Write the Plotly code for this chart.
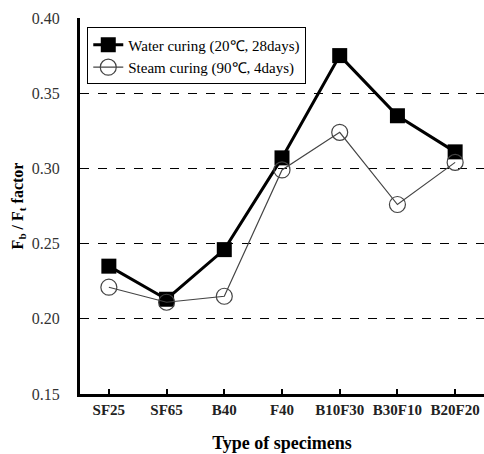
import plotly.graph_objects as go

categories = ["SF25", "SF65", "B40", "F40", "B10F30", "B30F10", "B20F20"]
water = [0.235, 0.213, 0.246, 0.307, 0.375, 0.335, 0.311]
steam = [0.221, 0.211, 0.215, 0.299, 0.324, 0.276, 0.304]
y_ticks = [0.15, 0.20, 0.25, 0.30, 0.35, 0.40]

font = "Liberation Serif"

fig = go.Figure()
fig.add_trace(go.Scatter(
    x=categories, y=water, mode="lines+markers",
    name="Water curing (20\u2103, 28days)",
    line=dict(color="black", width=3),
    marker=dict(symbol="square", size=15, color="black"),
))
fig.add_trace(go.Scatter(
    x=categories, y=steam, mode="lines+markers",
    name="Steam curing (90\u2103, 4days)",
    line=dict(color="#444444", width=1.2),
    marker=dict(symbol="circle-open", size=16, color="#444444", line=dict(width=1.2)),
))

fig.update_layout(
    width=484, height=454,
    margin=dict(l=80, r=0, t=18, b=60),
    paper_bgcolor="white", plot_bgcolor="white",
    font=dict(family=font, size=14, color="black"),
    showlegend=True,
    legend=dict(
        x=0.018, y=0.975, xanchor="left", yanchor="top",
        bordercolor="black", borderwidth=1, bgcolor="white",
        font=dict(family=font, size=15, color="black"),
        tracegroupgap=0, itemwidth=30,
    ),
    xaxis=dict(
        type="category", categoryorder="array", categoryarray=categories,
        range=[-0.5, 6.5], automargin=False,
        showline=True, linecolor="black", linewidth=3,
        ticks="inside", ticklen=5, tickcolor="black", tickwidth=1.5,
        showgrid=False, zeroline=False,
        tickfont=dict(family=font, size=15, weight="bold", color="#222222"),
        title=dict(text="Type of specimens", font=dict(family=font, size=18, weight="bold"), standoff=20),
    ),
    yaxis=dict(
        range=[0.15, 0.40], automargin=False,
        tickvals=y_ticks, ticktext=[f"{v:.2f}" for v in y_ticks],
        showline=True, linecolor="black", linewidth=3,
        ticks="", ticklabelstandoff=14,
        showgrid=True, gridcolor="black", gridwidth=1, griddash="dash",
        zeroline=False,
        tickfont=dict(family=font, size=16, color="#333333"),
        title=dict(text="<b>F<sub>b</sub> / F<sub>t</sub> factor</b>", font=dict(family=font, size=16), standoff=5),
    ),
)

fig.write_html("out.html", config={"displayModeBar": False},
               post_script="document.body.style.margin='0';")
